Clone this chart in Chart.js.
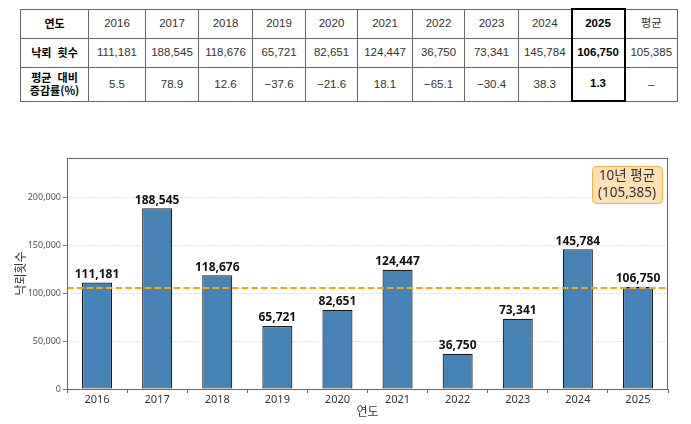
<!DOCTYPE html>
<html lang="ko">
<head>
<meta charset="utf-8">
<script src="https://cdn.jsdelivr.net/npm/chart.js@4.4.1/dist/chart.umd.min.js"></script>
<style>
  html, body { margin: 0; padding: 0; background: #fff; }
  body { width: 691px; height: 424px; position: relative; overflow: hidden;
         font-family: "Noto Sans CJK KR", "Noto Sans", sans-serif; }
  #stats { position: absolute; left: 20px; top: 8px; width: 657px;
           border-collapse: collapse; table-layout: fixed; border: 1.5px solid #111; }
  #stats td { border: 1px solid #666; text-align: center; font-size: 11.5px;
              font-family: "Liberation Sans", "Noto Sans CJK KR", sans-serif;
              color: #333; padding: 0; line-height: 13px; font-weight: normal; }
  #stats td.head { font-weight: bold; color: #000; font-size: 11px; font-family: "Noto Sans CJK KR", sans-serif; }
  #stats td.hi { font-weight: bold; color: #000; border-left: 2px solid #000; border-right: 2px solid #000; }
  #stats tr:first-child td.hi { border-top: 2px solid #000; }
  #stats tr:last-child td.hi { border-bottom: 2px solid #000; }
  #box { position: absolute; left: 0; top: 110px; width: 691px; height: 314px; }
</style>
</head>
<body>
<table id="stats">
  <colgroup id="cols"></colgroup>
  <tbody>
    <tr id="rowYear" style="height:29px"></tr>
    <tr id="rowCount" style="height:29px"></tr>
    <tr id="rowPct" style="height:34px"></tr>
  </tbody>
</table>
<div id="box"><canvas id="strikeChart"></canvas></div>
<script>
// data
const years = ["2016", "2017", "2018", "2019", "2020", "2021", "2022", "2023", "2024", "2025"];
const strikes = [111181, 188545, 118676, 65721, 82651, 124447, 36750, 73341, 145784, 106750];
const pctVsAvg = ["5.5", "78.9", "12.6", "\u221237.6", "\u221221.6", "18.1", "\u221265.1", "\u221230.4", "38.3", "1.3"];
const avgStrikes = 105385;
const yTicks = [0, 50000, 100000, 150000, 200000];
const yMax = 241000;

const fmt = v => v.toLocaleString("en-US");

// table
const colWidths = [68, 57, 53, 54, 53, 52, 55, 52, 54, 53, 53, 53];
const cols = document.getElementById("cols");
colWidths.forEach(w => {
    const c = document.createElement("col");
    c.style.width = w + "px";
    cols.appendChild(c);
});

function fillRow(id, label, cells, last) {
    const tr = document.getElementById(id);
    let html = `<td class="head">${label}</td>`;
    cells.forEach((txt, i) => {
        const cls = i === cells.length - 1 ? ' class="hi"' : "";
        html += `<td${cls}>${txt}</td>`;
    });
    html += `<td>${last}</td>`;
    tr.innerHTML = html;
}
fillRow("rowYear", "연도", years, "평균");
fillRow("rowCount", "낙뢰&nbsp;&nbsp;횟수", strikes.map(fmt), fmt(avgStrikes));
fillRow("rowPct", "평균&nbsp;&nbsp;대비<br>증감률(%)", pctVsAvg, "\u2013");

// chart helpers
const frameAndAvg = {
    id: "frameAndAvg",
    afterDatasetsDraw(chart) {
        const { ctx, chartArea: a, scales: { y } } = chart;
        const yy = y.getPixelForValue(avgStrikes);
        ctx.save();
        ctx.strokeStyle = "#FFA500";
        ctx.lineWidth = 1.8;
        ctx.setLineDash([6.7, 3]);
        ctx.beginPath();
        ctx.moveTo(a.left, yy);
        ctx.lineTo(a.right, yy);
        ctx.stroke();
        ctx.restore();

        // value labels above bars
        const meta = chart.getDatasetMeta(0);
        ctx.save();
        ctx.font = "bold 12px 'Noto Sans', 'Noto Sans CJK KR', sans-serif";
        ctx.fillStyle = "#111";
        ctx.textAlign = "center";
        ctx.textBaseline = "bottom";
        meta.data.forEach((bar, i) => {
            ctx.fillText(fmt(strikes[i]), bar.x, bar.y - 2);
        });
        ctx.restore();
    },
    afterDraw(chart) {
        const { ctx, chartArea: a } = chart;
        ctx.save();
        ctx.strokeStyle = "#666";
        ctx.lineWidth = 1;
        ctx.strokeRect(a.left + 0.5, a.top + 0.5, a.right - a.left - 1, a.bottom - a.top);

        // average note box
        const bw = 70, bh = 37;
        const bx = a.right - 6 - bw, by = a.top + 8;
        ctx.beginPath();
        ctx.roundRect(bx + 0.5, by + 0.5, bw, bh, 4);
        ctx.fillStyle = "rgba(250, 218, 160, 0.8)";
        ctx.fill();
        ctx.strokeStyle = "#F5B041";
        ctx.lineWidth = 1;
        ctx.stroke();
        ctx.fillStyle = "#333";
        ctx.font = "13.5px 'Noto Sans', 'Noto Sans CJK KR', sans-serif";
        ctx.textAlign = "center";
        ctx.textBaseline = "middle";
        ctx.fillText("10년 평균", bx + bw / 2, by + 10);
        ctx.fillText("(" + fmt(avgStrikes) + ")", bx + bw / 2, by + 27);
        ctx.restore();
    }
};

const ctx = document.getElementById("strikeChart").getContext("2d");
new Chart(ctx, {
    type: "bar",
    data: {
        labels: years,
        datasets: [{
            label: "낙뢰횟수",
            data: strikes,
            backgroundColor: "#4682B4",
            borderColor: "#1c1c1c",
            borderWidth: 1.2,
            borderSkipped: false,
            barPercentage: 0.5,
            categoryPercentage: 1.0
        }]
    },
    options: {
        responsive: true,
        maintainAspectRatio: false,
        animation: false,
        layout: { padding: { top: 48, right: 23, left: 0, bottom: 0 } },
        plugins: {
            legend: { display: false },
            tooltip: { enabled: false }
        },
        scales: {
            x: {
                afterFit: s => { s.height = 35; },
                grid: { display: true, drawOnChartArea: false, drawTicks: true, tickLength: 4, tickColor: "#666" },
                border: { display: false },
                ticks: { color: "#333", padding: 0, font: { family: "'Noto Sans', 'Noto Sans CJK KR'", size: 11 } },
                title: { display: true, text: "연도", color: "#333", padding: { top: 0, bottom: 5 },
                         font: { family: "'Noto Sans CJK KR'", size: 12 } }
            },
            y: {
                min: 0,
                max: yMax,
                afterFit: s => { s.width = 67; },
                afterBuildTicks: s => { s.ticks = yTicks.map(v => ({ value: v })); },
                grid: { color: "#d0d0d0", lineWidth: 0.8, tickLength: 4, tickColor: "#666", tickBorderDash: [] },
                border: { display: false, dash: [1.5, 1.5] },
                ticks: { color: "#555", padding: 2, font: { family: "'Noto Sans'", size: 9 }, callback: v => fmt(v) },
                title: { display: true, text: "낙뢰횟수", color: "#333", padding: { top: 13, bottom: 0 },
                         font: { family: "'Noto Sans CJK KR'", size: 12 } }
            }
        }
    },
    plugins: [frameAndAvg]
});
</script>
</body>
</html>
